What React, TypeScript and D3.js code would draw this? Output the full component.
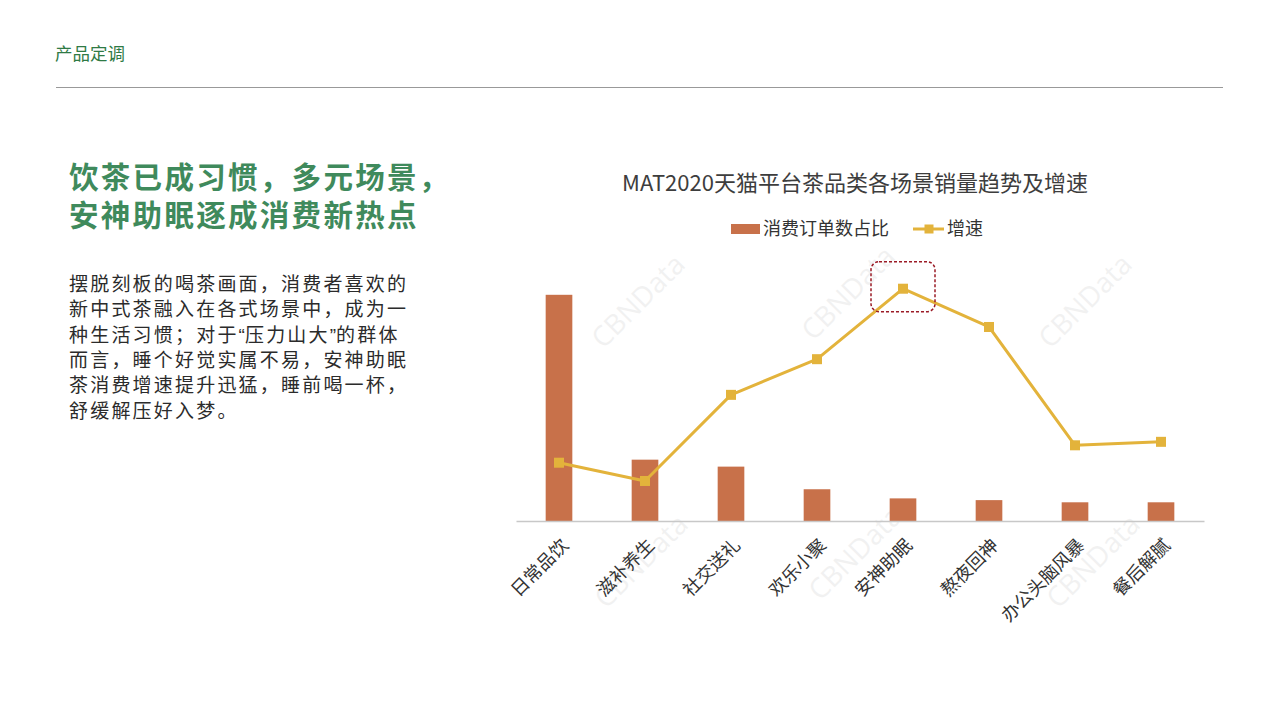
import React, { useEffect, useRef } from "react";
import * as d3 from "d3";

// scenes on the x axis
const categories = [
  "日常品饮",
  "滋补养生",
  "社交送礼",
  "欢乐小聚",
  "安神助眠",
  "熬夜回神",
  "办公头脑风暴",
  "餐后解腻",
];
// share of orders (%)
const orderShare = [52.0, 14.1, 12.5, 7.3, 5.2, 4.8, 4.3, 4.3];
// growth rate (%)
const growthRate = [67, 46, 145, 186, 267, 223, 87, 91];
const highlightCategory = "安神助眠";
const seriesNames = ["消费订单数占比", "增速"];
const chartTitle = "MAT2020天猫平台茶品类各场景销量趋势及增速";
const sectionLabel = "产品定调";
const headingLines = ["饮茶已成习惯，多元场景，", "安神助眠逐成消费新热点"];
const bodyLines = [
  "摆脱刻板的喝茶画面，消费者喜欢的",
  "新中式茶融入在各式场景中，成为一",
  "种生活习惯；对于“压力山大”的群体",
  "而言，睡个好觉实属不易，安神助眠",
  "茶消费增速提升迅猛，睡前喝一杯，",
  "舒缓解压好入梦。",
];

const FONT = "'Noto Sans CJK SC', 'Noto Sans', sans-serif";
const BAR = "#c8714a";
const LINE = "#e3b33b";

const App = () => {
  const svgRef = useRef<SVGSVGElement | null>(null);

  useEffect(() => {
    if (!svgRef.current) return;
    const svg = d3.select(svgRef.current);
    svg.selectAll("*").remove();
    svg.attr("width", 1280).attr("height", 720).style("font-family", FONT);

    svg.append("rect").attr("width", 1280).attr("height", 720).attr("fill", "#fff");

    // header
    svg
      .append("text")
      .attr("x", 55)
      .attr("y", 60)
      .attr("font-size", 17.5)
      .attr("fill", "#2f7a45")
      .text(sectionLabel);
    svg
      .append("line")
      .attr("x1", 56)
      .attr("x2", 1223)
      .attr("y1", 87.5)
      .attr("y2", 87.5)
      .attr("stroke", "#999")
      .attr("stroke-width", 1.2);

    // left heading + paragraph
    svg
      .append("g")
      .selectAll("text")
      .data(headingLines)
      .enter()
      .append("text")
      .attr("x", 69)
      .attr("y", (d, i) => 188 + i * 38)
      .attr("font-size", 29.5)
      .attr("font-weight", 700)
      .attr("letter-spacing", 2.3)
      .attr("fill", "#3f8a5c")
      .text((d) => d);

    // quotes are drawn narrow, as in the source slide
    const body = svg
      .append("g")
      .selectAll("text")
      .data(bodyLines)
      .enter()
      .append("text")
      .attr("x", 69)
      .attr("y", (d, i) => 291 + i * 25.3)
      .attr("font-size", 19)
      .attr("letter-spacing", 2.2)
      .attr("fill", "#2b2b2b");
    body.each(function (d) {
      const t = d3.select(this);
      d.split(/([“”])/).forEach((part) => {
        if (!part) return;
        const q = part === "“" || part === "”";
        t.append("tspan")
          .attr("font-family", q ? "'Liberation Sans', sans-serif" : null)
          .attr("letter-spacing", q ? 0 : null)
          .text(part);
      });
    });

    // scales
    const x = d3.scaleBand().domain(categories).range([516, 1204]).paddingInner(0.69).paddingOuter(0.345);
    const yBar = d3.scaleLinear().domain([0, 60]).range([521, 260]);
    const yLine = d3.scaleLinear().domain([0, 300]).range([521, 260]);
    const cx = (c: string) => (x(c) ?? 0) + x.bandwidth() / 2;

    // watermarks
    const marks = [
      [645, 308],
      [855, 300],
      [1092, 308],
      [648, 568],
      [862, 560],
      [1100, 568],
    ];
    svg
      .append("g")
      .selectAll("text")
      .data(marks)
      .enter()
      .append("text")
      .attr("transform", (d) => `translate(${d[0]},${d[1]}) rotate(-45)`)
      .attr("text-anchor", "middle")
      .attr("font-size", 28)
      .attr("font-family", "'Open Sans', sans-serif")
      .attr("fill", "#000")
      .attr("opacity", 0.05)
      .text("CBNData");

    // title
    svg
      .append("text")
      .attr("x", 855)
      .attr("y", 191)
      .attr("text-anchor", "middle")
      .attr("font-size", 22)
      .attr("fill", "#3d3d3d")
      .text(chartTitle);

    // legend
    const lg = svg.append("g").attr("font-size", 18).attr("fill", "#333");
    lg.append("rect").attr("x", 731).attr("y", 224).attr("width", 29).attr("height", 10).attr("fill", BAR);
    lg.append("text").attr("x", 763).attr("y", 235).attr("fill", "#333").text(seriesNames[0]);
    lg.append("line").attr("x1", 913).attr("x2", 944).attr("y1", 229).attr("y2", 229).attr("stroke", LINE).attr("stroke-width", 3);
    lg.append("rect").attr("x", 924.5).attr("y", 224.5).attr("width", 9).attr("height", 9).attr("fill", LINE);
    lg.append("text").attr("x", 947).attr("y", 235).attr("fill", "#333").text(seriesNames[1]);

    // bars
    svg
      .append("g")
      .selectAll("rect")
      .data(categories)
      .enter()
      .append("rect")
      .attr("x", (d) => x(d) ?? 0)
      .attr("y", (d, i) => yBar(orderShare[i]))
      .attr("width", x.bandwidth())
      .attr("height", (d, i) => yBar(0) - yBar(orderShare[i]))
      .attr("fill", BAR);

    // x axis
    const ax = svg
      .append("g")
      .attr("transform", `translate(0,${yBar(0)})`)
      .call(d3.axisBottom(x).tickSize(0).tickSizeOuter(0));
    ax.select(".domain").attr("stroke", "#c8c8c8").attr("stroke-width", 1.5);
    ax.selectAll(".tick text")
      .attr("font-family", FONT)
      .attr("font-size", 18)
      .attr("fill", "#333")
      .attr("text-anchor", "end")
      .attr("transform", "translate(6,21) rotate(-45)")
      .attr("x", 0)
      .attr("y", 0)
      .attr("dy", "0.35em");

    // growth line
    const line = d3
      .line<number>()
      .x((d, i) => cx(categories[i]))
      .y((d) => yLine(d));
    svg
      .append("path")
      .datum(growthRate)
      .attr("d", line)
      .attr("fill", "none")
      .attr("stroke", LINE)
      .attr("stroke-width", 3)
      .attr("stroke-linejoin", "round");
    svg
      .append("g")
      .selectAll("rect")
      .data(growthRate)
      .enter()
      .append("rect")
      .attr("x", (d, i) => cx(categories[i]) - 5)
      .attr("y", (d) => yLine(d) - 5)
      .attr("width", 10)
      .attr("height", 10)
      .attr("fill", LINE);

    // highlight box around the peak
    const hi = categories.indexOf(highlightCategory);
    const hx = cx(highlightCategory);
    const hy = yLine(growthRate[hi]);
    svg
      .append("rect")
      .attr("x", hx - 32)
      .attr("y", hy - 27)
      .attr("width", 64)
      .attr("height", 50)
      .attr("rx", 8)
      .attr("fill", "none")
      .attr("stroke", "#9b1b26")
      .attr("stroke-width", 1.5)
      .attr("stroke-dasharray", "3,2");
  }, []);

  return (
    <svg ref={svgRef} style={{ position: "absolute", left: 0, top: 0, display: "block" }}></svg>
  );
};

export default App;
